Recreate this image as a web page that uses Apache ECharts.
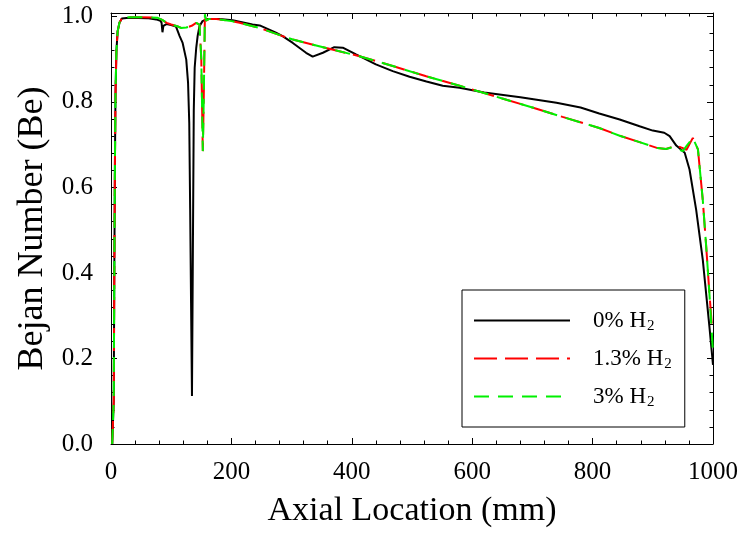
<!DOCTYPE html>
<html>
<head>
<meta charset="utf-8">
<script src="https://cdn.jsdelivr.net/npm/echarts@6/dist/echarts.min.js"></script>
<style>html,body{margin:0;padding:0;background:#fff}#c{width:740px;height:546px}</style>
</head>
<body>
<div id="c"></div>
<script>
// ---- data ----
const seriesNames = ['0% H2', '1.3% H2', '3% H2'];
const xTicks = [0, 200, 400, 600, 800, 1000];
const yTicks = [0.0, 0.2, 0.4, 0.6, 0.8, 1.0];

const blackX = [2, 4.5, 5.5, 6.5, 7.5, 9, 11, 14, 18, 30, 60, 75, 82, 84, 85.5, 87, 92, 100, 108, 114, 119, 125, 128, 130, 131.5, 133, 134.5, 136, 137.5, 139, 141.5, 144, 147, 152, 160, 180, 202, 235, 247, 274, 285, 302, 324, 335, 352, 371, 385, 407, 440, 468, 496, 524, 551, 579, 620, 680, 740, 780, 811, 845, 878, 900, 919, 928, 939, 953, 961, 972, 983, 994, 1000];
const blackY = [0, 0.1, 0.4, 0.65, 0.82, 0.92, 0.965, 0.985, 0.995, 0.997, 0.996, 0.993, 0.99, 0.985, 0.963, 0.978, 0.982, 0.98, 0.976, 0.954, 0.938, 0.899, 0.845, 0.75, 0.55, 0.33, 0.112, 0.45, 0.78, 0.88, 0.925, 0.955, 0.977, 0.989, 0.994, 0.994, 0.991, 0.981, 0.979, 0.962, 0.954, 0.938, 0.915, 0.906, 0.915, 0.928, 0.927, 0.911, 0.888, 0.872, 0.859, 0.848, 0.838, 0.833, 0.822, 0.811, 0.798, 0.787, 0.773, 0.759, 0.743, 0.733, 0.728, 0.720, 0.698, 0.681, 0.642, 0.548, 0.431, 0.275, 0.185];

const redX = [2, 4.5, 5.5, 6.5, 7.5, 9, 11, 14, 18, 30, 50, 77, 85, 92.5, 100, 110, 116.6, 125, 134, 141.5, 147, 150, 152.5, 154, 156, 158, 163, 175, 200, 213.5, 246.7, 285, 302, 357.5, 412.8, 468, 523.6, 579, 650, 700, 750, 811, 845, 878, 908, 922, 939, 950, 956, 966.5, 975, 983, 988.7, 994, 998];
const redY = [0, 0.1, 0.4, 0.65, 0.82, 0.92, 0.965, 0.985, 0.995, 0.998, 0.998, 0.997, 0.992, 0.985, 0.981, 0.977, 0.973, 0.974, 0.978, 0.985, 0.981, 0.9, 0.685, 0.8, 1.005, 0.99, 0.994, 0.994, 0.989, 0.985, 0.973, 0.954, 0.946, 0.926, 0.907, 0.884, 0.860, 0.838, 0.808, 0.787, 0.765, 0.739, 0.721, 0.706, 0.692, 0.690, 0.698, 0.692, 0.688, 0.716, 0.689, 0.571, 0.462, 0.353, 0.28];

const greenX = [2, 4.5, 5.5, 6.5, 7.5, 9, 11, 14, 18, 30, 50, 77, 85, 92.5, 100, 110, 116.6, 125, 134, 141.5, 147, 150, 152.5, 154, 156, 158, 163, 175, 200, 213.5, 246.7, 285, 302, 357.5, 412.8, 468, 523.6, 579, 650, 700, 750, 811, 845, 878, 908, 922, 933, 950, 956.5, 966.5, 975, 983, 988.7, 994, 999.5];
const greenY = [0, 0.1, 0.4, 0.65, 0.82, 0.92, 0.965, 0.985, 0.995, 0.998, 0.998, 0.997, 0.992, 0.985, 0.981, 0.977, 0.973, 0.974, 0.978, 0.985, 0.981, 0.9, 0.685, 0.8, 1.005, 0.99, 0.994, 0.994, 0.989, 0.985, 0.973, 0.954, 0.946, 0.926, 0.907, 0.884, 0.860, 0.838, 0.808, 0.787, 0.765, 0.739, 0.721, 0.706, 0.692, 0.690, 0.694, 0.685, 0.698, 0.716, 0.689, 0.571, 0.462, 0.353, 0.225];

// ---- chart ----
const zip = (xs, ys) => xs.map((x, i) => [x, ys[i]]);
const FONT = 'Liberation Serif';
const Y_MAX = 1.008;
const isMajorY = v => yTicks.some(t => Math.abs(t - v) < 1e-6);

function xAx(pos, main) {
  return {
    type: 'value', position: pos, min: xTicks[0], max: xTicks[xTicks.length - 1], interval: xTicks[1] - xTicks[0],
    axisLine: { show: true, onZero: false, lineStyle: { color: '#000', width: 1 } },
    axisTick: { show: true, inside: true, length: 6, lineStyle: { color: '#000' } },
    minorTick: { show: true, splitNumber: 5, length: 3.5, lineStyle: { color: '#000' } },
    splitLine: { show: false },
    axisLabel: { show: main, color: '#000', fontFamily: FONT, fontSize: 25, margin: 16,
      formatter: v => String(v) },
    name: main ? 'Axial Location (mm)' : '', nameLocation: 'middle', nameGap: 50,
    nameTextStyle: { color: '#000', fontFamily: FONT, fontSize: 34 }
  };
}
function yAx(pos, main, minor) {
  return {
    type: 'value', position: pos, min: 0, max: Y_MAX, interval: minor ? 0.04 : 0.2,
    axisLine: { show: !minor, onZero: false, lineStyle: { color: '#000', width: 1 } },
    axisTick: { show: true, inside: true, length: minor ? 3.5 : 6, lineStyle: { color: '#000' } },
    splitLine: { show: false },
    axisLabel: { show: main && !minor, color: '#000', fontFamily: FONT, fontSize: 25, margin: 18,
      formatter: v => isMajorY(v) ? v.toFixed(1) : '' },
    name: (main && !minor) ? 'Bejan Number (Be)' : '', nameLocation: 'middle', nameGap: 58,
    nameTextStyle: { color: '#000', fontFamily: FONT, fontSize: 36 }
  };
}

const chart = echarts.init(document.getElementById('c'), null, { renderer: 'canvas' });
const legendFmt = name => {
  const p = name.split(' ');
  return '{a|' + p[0] + ' H}{s|2}';
};
chart.setOption({
  animation: false,
  backgroundColor: '#fff',
  grid: { left: 111, right: 27, top: 13, bottom: 102, containLabel: false, outerBoundsMode: 'none' },
  xAxis: [xAx('bottom', true), xAx('top', false)],
  yAxis: [yAx('left', true, false), yAx('left', false, true), yAx('right', false, false), yAx('right', false, true)],
  legend: {
    orient: 'vertical', left: 462, top: 290,
    data: seriesNames,
    borderColor: '#000', borderWidth: 1, borderRadius: 0,
    padding: [17, 13, 17, 11], itemGap: 11,
    itemWidth: 96, itemHeight: 14,
    itemStyle: { opacity: 0 },
    formatter: legendFmt,
    textStyle: {
      color: '#000', fontFamily: FONT,
      rich: {
        a: { fontFamily: FONT, fontSize: 23, color: '#000', lineHeight: 26, padding: [0, 0, 0, 18] },
        s: { fontFamily: FONT, fontSize: 15, color: '#000', lineHeight: 26, padding: [12, 0, 0, 1] }
      }
    }
  },
  series: [
    { name: seriesNames[0], type: 'line', data: zip(blackX, blackY), symbol: 'none', xAxisIndex: 0, yAxisIndex: 0,
      lineStyle: { color: '#000', width: 2 }, itemStyle: { color: '#000' } },
    { name: seriesNames[1], type: 'line', data: zip(redX, redY), symbol: 'none', xAxisIndex: 0, yAxisIndex: 0,
      lineStyle: { color: '#ff0000', width: 2, type: [23, 8] }, itemStyle: { color: '#ff0000' } },
    { name: seriesNames[2], type: 'line', data: zip(greenX, greenY), symbol: 'none', xAxisIndex: 0, yAxisIndex: 0,
      lineStyle: { color: '#00f000', width: 2, type: [15, 9] }, itemStyle: { color: '#00f000' } }
  ]
});
</script>
</body>
</html>
